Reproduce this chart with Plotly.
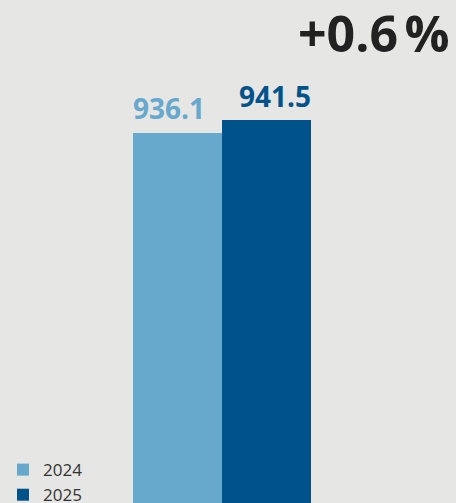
import plotly.graph_objects as go

years = ["2024", "2025"]
values = [936.1, 941.5]
labels = ["936.1", "941.5"]
change_label = "+0.6\u202f%"

colors = ["#67a8cd", "#00538a"]
bg = "#e6e6e4"

fig = go.Figure()
for i, (yr, v, c) in enumerate(zip(years, values, colors)):
    fig.add_trace(go.Bar(x=[i], y=[v], name=yr, marker=dict(color=c, line=dict(width=0)),
                         width=1.0, showlegend=True, legendgroup=yr))

fig.add_annotation(x=-0.5, y=values[0], xref="x", yref="y", text=labels[0],
                   xanchor="left", yanchor="bottom", showarrow=False, yshift=4, xshift=-2,
                   font=dict(family="Open Sans", size=28, color=colors[0], weight=700))
fig.add_annotation(x=1.5, y=values[1], xref="x", yref="y", text=labels[1],
                   xanchor="right", yanchor="bottom", showarrow=False, yshift=3, xshift=2,
                   font=dict(family="Open Sans", size=28, color=colors[1], weight=700))
fig.add_annotation(x=1.0, y=1.0, xref="paper", yref="paper", text=change_label,
                   xanchor="right", yanchor="top", showarrow=False, xshift=-4, yshift=3,
                   font=dict(family="Open Sans", size=50, color="#222222", weight=700))

fig.update_layout(
    width=456, height=503,
    margin=dict(l=0, r=0, t=0, b=0, autoexpand=False),
    paper_bgcolor=bg, plot_bgcolor=bg,
    barmode="overlay", bargap=0,
    xaxis=dict(range=[-1.994, 3.13], visible=False, fixedrange=True),
    yaxis=dict(range=[786, 990.2], visible=False, fixedrange=True),
    legend=dict(x=0.0066, y=-0.02, xanchor="left", yanchor="bottom",
                font=dict(family="Open Sans", size=17, color="#333333"),
                bgcolor="rgba(0,0,0,0)", traceorder="normal", tracegroupgap=4),
    showlegend=True,
)

fig.write_html("out.html", config={"displayModeBar": False},
               post_script="document.body.style.margin='0';document.body.style.overflow='hidden';")
